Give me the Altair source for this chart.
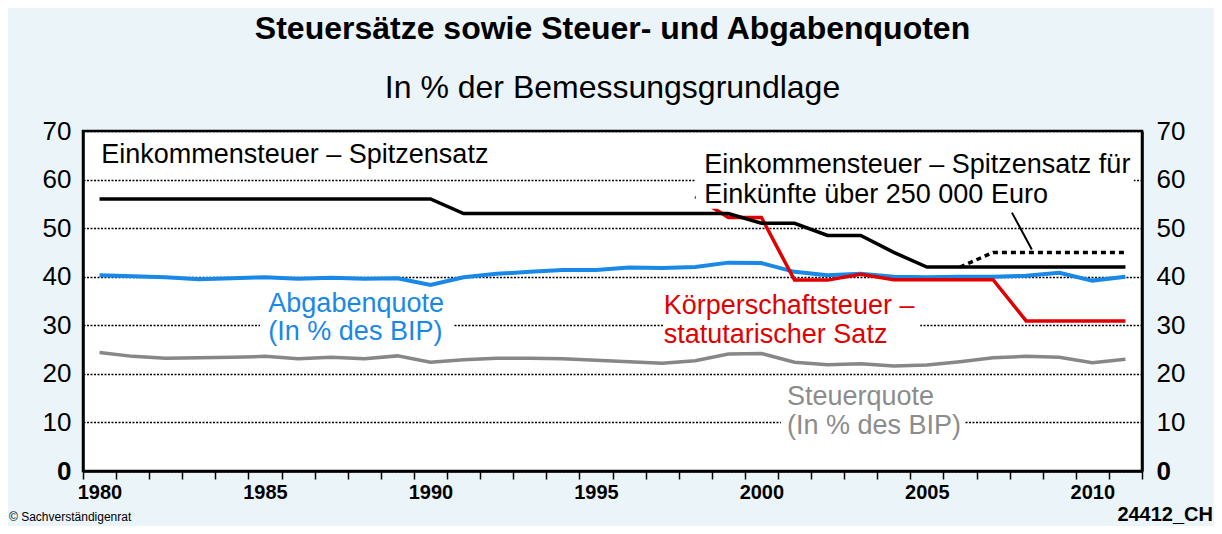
import altair as alt
import pandas as pd

FONT = "Liberation Sans"

years = [1980, 1981, 1982, 1983, 1984, 1985, 1986, 1987, 1988, 1989,
         1990, 1991, 1992, 1993, 1994, 1995, 1996, 1997, 1998, 1999,
         2000, 2001, 2002, 2003, 2004, 2005, 2006, 2007, 2008, 2009,
         2010, 2011]

spitzensatz = [56, 56, 56, 56, 56, 56, 56, 56, 56, 56,
               56, 53, 53, 53, 53, 53, 53, 53, 53, 53,
               51, 51, 48.5, 48.5, 45, 42, 42, 42, 42, 42,
               42, 42]

abgabenquote = [40.3, 40.1, 39.9, 39.5, 39.7, 39.9, 39.6, 39.8, 39.6, 39.7,
                38.3, 39.9, 40.6, 41.0, 41.4, 41.4, 41.9, 41.8, 42.0, 42.9,
                42.8, 41.0, 40.3, 40.6, 40.0, 39.9, 40.0, 40.0, 40.2, 40.8,
                39.2, 40.0]

steuerquote = [24.4, 23.6, 23.2, 23.3, 23.4, 23.6, 23.1, 23.4, 23.1, 23.7,
               22.4, 22.9, 23.2, 23.2, 23.1, 22.8, 22.5, 22.2, 22.7, 24.1,
               24.2, 22.4, 21.9, 22.1, 21.6, 21.8, 22.5, 23.3, 23.6, 23.4,
               22.3, 23.0]

reich_years = [2006, 2007, 2008, 2009, 2010, 2011]
reich_satz = [42, 45, 45, 45, 45, 45]

kst_years = [1998, 1999, 2000, 2001, 2002, 2003, 2004, 2005, 2006, 2007,
             2008, 2009, 2010, 2011]
kst_satz = [56.5, 52.2, 52.2, 39.3, 39.3, 40.5, 39.4, 39.4, 39.4, 39.4,
            30.9, 30.9, 30.9, 30.9]

y_ticks = [0, 10, 20, 30, 40, 50, 60, 70]
x_domain = [1979.5, 2011.5]
x_tick_bounds = [1979.5 + i for i in range(33)]

# annotations (data coordinates)
ann_text = ["Einkommensteuer – Spitzensatz",
            "Einkommensteuer – Spitzensatz für", "Einkünfte über 250 000 Euro",
            "Abgabenquote", "(In % des BIP)",
            "Körperschaftsteuer –", "statutarischer Satz",
            "Steuerquote", "(In % des BIP)"]
ann_x = [1980.05, 1998.27, 1998.27, 1985.1, 1985.1, 1997.05, 1997.05, 2000.77, 2000.77]
ann_y = [63.5, 61.3, 55.2, 32.7, 26.9, 32.3, 26.4, 13.6, 7.6]
ann_color = ["#000000", "#000000", "#000000", "#1A88E6", "#1A88E6",
             "#E00000", "#E00000", "#8C8C8C", "#8C8C8C"]

box_x = [1998.02, 1984.85, 1997.03, 2000.59]
box_x2 = [2011.25, 1990.68, 2004.8, 2006.12]
box_y = [54, 28, 28, 8]
box_y2 = [66, 32, 32, 12]

conn_x = [2007.57]
conn_x2 = [2008.17]
conn_y = [53.2]
conn_y2 = [45.6]

xscale = alt.Scale(domain=x_domain, nice=False, zero=False)
yscale = alt.Scale(domain=[0, 70], nice=False, zero=True)

x_axis = alt.Axis(
    values=x_tick_bounds,
    labelExpr="(datum.value + 0.5) % 5 == 0 ? toString(datum.value + 0.5) : ''",
    labelOffset=16.5,
    labelFont=FONT, labelFontSize=20, labelFontWeight="bold", labelColor="black",
    labelFlush=False, labelOverlap=False, labelBound=False, labelPadding=3,
    ticks=True, tickSize=8, tickWidth=1.5, tickColor="black",
    domain=True, domainColor="black", domainWidth=2.5,
    grid=False, title=None,
)

y_axis_left = alt.Axis(
    values=y_ticks, orient="left",
    grid=True, gridDash=[2, 1.5], gridColor="black", gridWidth=1.4,
    ticks=False, domain=True, domainColor="black", domainWidth=2.5,
    labelFont=FONT, labelFontSize=26, labelColor="black", labelPadding=12,
    labelFlush=False, labelOverlap=False, labelBound=False,
    labelFontWeight={"condition": {"test": "datum.value == 0", "value": "bold"}, "value": "normal"},
    title=None,
)

y_axis_right = alt.Axis(
    values=y_ticks, orient="right",
    grid=False, ticks=False, domain=True, domainColor="black", domainWidth=2.5,
    labelFont=FONT, labelFontSize=26, labelColor="black", labelPadding=14,
    labelFlush=False, labelOverlap=False, labelBound=False,
    labelFontWeight={"condition": {"test": "datum.value == 0", "value": "bold"}, "value": "normal"},
    title=None,
)

X = lambda f: alt.X(f, scale=xscale, axis=x_axis)
Y = lambda f: alt.Y(f, scale=yscale, axis=y_axis_left)


def series_line(xs, ys, color, width, dash=None):
    df = pd.DataFrame({"year": xs, "value": ys})
    kw = dict(color=color, strokeWidth=width, strokeJoin="miter", strokeCap="butt")
    if dash is not None:
        kw["strokeDash"] = dash
    return alt.Chart(df).mark_line(**kw).encode(x=X("year:Q"), y=Y("value:Q"))


gray = series_line(years, steuerquote, "#878787", 3.5)
blue = series_line(years, abgabenquote, "#1A88E6", 4)
red = series_line(kst_years, kst_satz, "#E00000", 3.5)
black = series_line(years, spitzensatz, "#000000", 3.5)
dotted = series_line(reich_years, reich_satz, "#000000", 3.5, dash=[5, 4])

boxes = alt.Chart(pd.DataFrame({"x": box_x, "x2": box_x2, "y": box_y, "y2": box_y2})).mark_rect(
    color="white"
).encode(x=X("x:Q"), x2="x2:Q", y=Y("y:Q"), y2="y2:Q")

texts = alt.Chart(pd.DataFrame({"x": ann_x, "y": ann_y, "t": ann_text, "c": ann_color})).mark_text(
    font=FONT, fontSize=27, align="left", baseline="alphabetic"
).encode(
    x=X("x:Q"), y=Y("y:Q"),
    text="t:N",
    color=alt.Color("c:N", scale=None),
)

connector = alt.Chart(pd.DataFrame({"x": conn_x, "x2": conn_x2, "y": conn_y, "y2": conn_y2})).mark_rule(
    color="black", strokeWidth=2
).encode(x=X("x:Q"), x2="x2:Q", y=Y("y:Q"), y2="y2:Q")

footer_df = pd.DataFrame({"t": ["© Sachverständigenrat"]})
footer_left = alt.Chart(footer_df).mark_text(
    font=FONT, fontSize=12, align="left", baseline="bottom", color="black"
).encode(x=alt.value(-74), y=alt.value(393), text="t:N")

code_df = pd.DataFrame({"t": ["24412_CH"]})
footer_right = alt.Chart(code_df).mark_text(
    font=FONT, fontSize=20, fontWeight="bold", align="right", baseline="bottom", color="black"
).encode(x=alt.value(1130), y=alt.value(394), text="t:N")

main = alt.layer(gray, blue, red, black, dotted, boxes, texts, connector, footer_left, footer_right)

right = alt.Chart(pd.DataFrame({"v": [0]})).mark_rule(opacity=0).encode(
    y=alt.Y("v:Q", scale=yscale, axis=y_axis_right)
)

chart = alt.layer(main, right).resolve_scale(y="independent").properties(
    width=1059,
    height=340,
    title=alt.TitleParams(
        text="Steuersätze sowie Steuer- und Abgabenquoten",
        subtitle="In % der Bemessungsgrundlage",
        anchor="middle", font=FONT, fontSize=32, fontWeight="bold", color="black",
        subtitleFont=FONT, subtitleFontSize=32, subtitleColor="black",
        subtitlePadding=27, offset=13,
    ),
    autosize=alt.AutoSizeParams(type="none"),
    padding={"left": 75, "top": 123, "right": 72, "bottom": 55},
).configure(
    background="#EBF4F8"
).configure_view(
    stroke="black", strokeWidth=2.5, fill="white"
)

chart.save("out.html", embed_options={"renderer": "svg", "actions": False})
